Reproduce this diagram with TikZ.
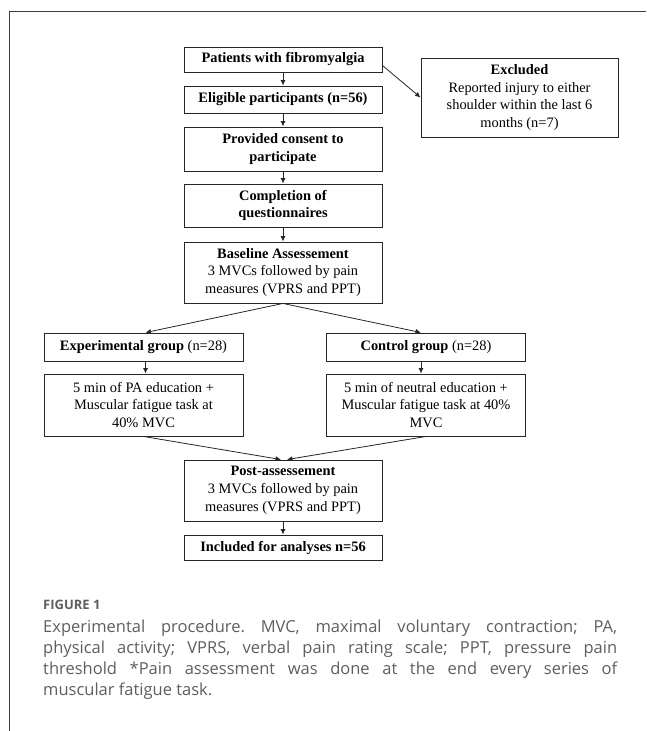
\documentclass[tikz,border=0pt]{standalone}
\usepackage{fontspec}
\setmainfont{Liberation Serif}
\newfontfamily\capfont[Ligatures=NoCommon]{Open Sans}
\usetikzlibrary{arrows.meta}
\definecolor{capgray}{HTML}{5E5E5E}
\definecolor{framegray}{HTML}{3C3C3C}
\frenchspacing
\begin{document}
\begin{tikzpicture}[x=1pt,y=-1pt,
  box/.style={draw=black!85, line width=0.9pt, align=center, inner sep=0pt,
    font=\fontsize{14.4}{17.8}\selectfont},
  cbox/.style={box, minimum width=198pt},
  sbox/.style={box, minimum width=199pt},
  arr/.style={-{Latex[length=5.5pt,width=5pt]}, line width=0.8pt, draw=black!85},
  captext/.style={inner sep=0pt, text=capgray, align=left}
]
\useasboundingbox (0,0) rectangle (646,731);
\draw[line width=1.3pt, framegray] (9.3,731) -- (9.3,11.7) -- (646,11.7);

% centre column
\node[cbox, minimum height=25pt] (pat) at (283,59.5) {\textbf{Patients with fibromyalgia}};
\node[cbox, minimum height=27pt] (eli) at (283,99.5) {\textbf{Eligible participants (n=56)}};
\node[cbox, minimum height=44pt] (con) at (283,149) {\textbf{Provided consent to}\\\textbf{participate}};
\node[cbox, minimum height=43pt] (com) at (283,205.5) {\textbf{Completion of}\\\textbf{questionnaires}};
\node[cbox, minimum height=61pt] (bas) at (283,272.5) {\textbf{Baseline Assessement}\\3 MVCs followed by pain\\measures (VPRS and PPT)};

% excluded
\node[box, minimum width=197pt, minimum height=79pt] (exc) at (519.5,97.5) {\textbf{Excluded}\\Reported injury to either\\shoulder within the last 6\\months (n=7)};

% groups
\node[sbox, minimum height=28pt] (exp) at (143.5,347) {\textbf{Experimental group} (n=28)};
\node[sbox, minimum height=28pt] (ctl) at (426,347) {\textbf{Control group} (n=28)};
\node[sbox, minimum height=62pt] (pae) at (143.5,405) {5 min of PA education +\\Muscular fatigue task at\\40\% MVC};
\node[sbox, minimum height=62pt] (neu) at (426,405) {5 min of neutral education +\\Muscular fatigue task at 40\%\\MVC};

% post
\node[cbox, minimum height=61pt] (pos) at (283,490.5) {\textbf{Post-assessement}\\3 MVCs followed by pain\\measures (VPRS and PPT)};
\node[cbox, minimum height=25pt] (inc) at (283,547.5) {\textbf{Included for analyses n=56}};

% connectors
\draw[arr] (pat) -- (eli);
\draw[arr] (eli) -- (con);
\draw[arr] (con) -- (com);
\draw[arr] (com) -- (bas);
\draw[arr] ([yshift=-6pt]pat.east) -- (exc.west);
\draw[arr] (bas.south) -- ([xshift=2pt]exp.north);
\draw[arr] (bas.south) -- ([xshift=-5pt]ctl.north);
\draw[arr] ([xshift=2pt]exp.south) -- ([xshift=2pt]pae.north);
\draw[arr] ([xshift=-5pt]ctl.south) -- ([xshift=-5pt]neu.north);
\draw[arr] (pae.south) -- ([xshift=-2pt]pos.north);
\draw[arr] (neu.south) -- ([xshift=4pt]pos.north);
\draw[arr] (pos) -- (inc);

% caption
\node[captext, anchor=base west, font=\capfont\bfseries\fontsize{13}{16}\selectfont] (fig) at (43,609) {FIGURE 1};
\node[captext, anchor=north west, font=\capfont\fontsize{16.5}{21.2}\selectfont] (cap) at (43,619.5)
{\makebox[574pt][s]{Experimental procedure. MVC, maximal voluntary contraction; PA,}\\
 \makebox[574pt][s]{physical activity; VPRS, verbal pain rating scale; PPT, pressure pain}\\
 \makebox[574pt][s]{threshold *Pain assessment was done at the end every series of}\\
 muscular fatigue task.};
\end{tikzpicture}
\end{document}
